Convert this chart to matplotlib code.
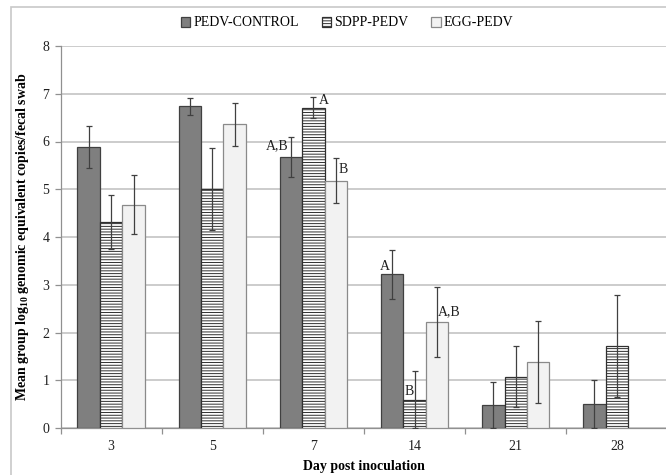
import numpy as np
import matplotlib
matplotlib.use("Agg")
import matplotlib.pyplot as plt
from matplotlib.patches import Rectangle

plt.rcParams['font.family'] = ['Liberation Serif', 'DejaVu Serif']
plt.rcParams['hatch.linewidth'] = 0.7
plt.rcParams['mathtext.fontset'] = 'custom'
plt.rcParams['mathtext.rm'] = 'Liberation Serif:bold'
plt.rcParams['mathtext.bf'] = 'Liberation Serif:bold'

days = ["3", "5", "7", "14", "21", "28"]
series_names = ["PEDV-CONTROL", "SDPP-PEDV", "EGG-PEDV"]
pedv_control = [5.89, 6.74, 5.68, 3.22, 0.48, 0.50]
pedv_control_err = [0.44, 0.18, 0.42, 0.51, 0.49, 0.50]
sdpp_pedv = [4.32, 5.00, 6.71, 0.59, 1.07, 1.72]
sdpp_pedv_err = [0.57, 0.86, 0.22, 0.60, 0.64, 1.07]
egg_pedv = [4.68, 6.36, 5.18, 2.22, 1.38, np.nan]
egg_pedv_err = [0.61, 0.45, 0.47, 0.73, 0.86, np.nan]

# significance letters: (day index, series index, text)
letters = [(2, 0, "A,B"), (2, 1, "A"), (2, 2, "B"),
           (3, 0, "A"), (3, 1, "B"), (3, 2, "A,B")]

fig = plt.figure(figsize=(6.66, 4.75), dpi=100)
# outer chart frame (cropped at right/bottom)
fig.patches.append(Rectangle((11/666, -0.05), 1.2, 1 - 7/475 + 0.05,
                             transform=fig.transFigure, fill=False,
                             edgecolor='#c8c8c8', linewidth=1.2))

ax = fig.add_axes([60.5/666, 1 - 428/475, 607/666, (428 - 46)/475])

x = np.arange(len(days))
w = 0.222
styles = [
    dict(facecolor='#7f7f7f', edgecolor='#404040', hatch=None),
    dict(facecolor='white', edgecolor='#303030', hatch='------'),
    dict(facecolor='#f2f2f2', edgecolor='#8a8a8a', hatch=None),
]
data = [pedv_control, sdpp_pedv, egg_pedv]
errs = [pedv_control_err, sdpp_pedv_err, egg_pedv_err]
handles = []
for i, (vals, er, st) in enumerate(zip(data, errs, styles)):
    vals = np.array(vals, dtype=float)
    er = np.array(er, dtype=float)
    pos = x + (i - 1) * w
    b = ax.bar(pos, vals, w, facecolor=st['facecolor'], edgecolor=st['edgecolor'],
               hatch=st['hatch'], linewidth=0.9, zorder=3, label=series_names[i])
    handles.append(b)
    low = np.minimum(er, vals)
    ax.errorbar(pos, vals, yerr=[low, er], fmt='none', ecolor='#404040',
                elinewidth=0.9, capsize=2.5, capthick=0.9, zorder=4)

# letter annotations
offsets = {
    (2, 0): (-0.02, 5.78, 'right'),
    (2, 1): (0.05, 6.72, 'left'),
    (2, 2): (0.025, 5.27, 'left'),
    (3, 0): (-0.02, 3.25, 'right'),
    (3, 1): (-0.005, 0.62, 'right'),
    (3, 2): (0.01, 2.30, 'left'),
}
for d, s, t in letters:
    dx, yy, ha = offsets[(d, s)]
    ax.text(x[d] + (s - 1) * w + dx, yy, t, ha=ha, va='bottom',
            fontsize=10, color='#202020', zorder=5)

ax.set_xlim(-0.5, len(days) - 0.5)
ax.set_ylim(0, 8)
ax.set_yticks(range(0, 9))
ax.set_xticks(x)
ax.set_xticklabels(days, fontsize=10)
ax.set_xticks(np.arange(-0.5, len(days)), minor=True)
ax.tick_params(axis='x', which='major', length=0, pad=9, colors='#202020')
ax.tick_params(axis='x', which='minor', length=4, color='#909090', width=0.9)
ax.tick_params(axis='y', length=4, color='#909090', width=0.9, pad=4,
               labelsize=10)
for lab in ax.get_yticklabels():
    lab.set_color('#202020')
ax.yaxis.grid(True, color='#c4c4c4', linewidth=1.2, zorder=0)
ax.set_axisbelow(True)
for sp in ['top', 'right']:
    ax.spines[sp].set_visible(False)
for sp in ['left', 'bottom']:
    ax.spines[sp].set_color('#909090')
    ax.spines[sp].set_linewidth(0.9)

ax.set_xlabel("Day post inoculation", fontsize=10, fontweight='bold', labelpad=5)
ax.set_ylabel("Mean group log$_{10}$ genomic equivalent copies/fecal swab",
              fontsize=10, fontweight='bold', labelpad=8)

fig.legend(handles=handles, labels=series_names, loc='center',
           bbox_to_anchor=(347/666, 1 - 23/475), ncol=3, frameon=False,
           fontsize=10, handlelength=0.7, handleheight=0.7, handletextpad=0.2,
           columnspacing=1.65)

fig.savefig("out.png", dpi=100)
